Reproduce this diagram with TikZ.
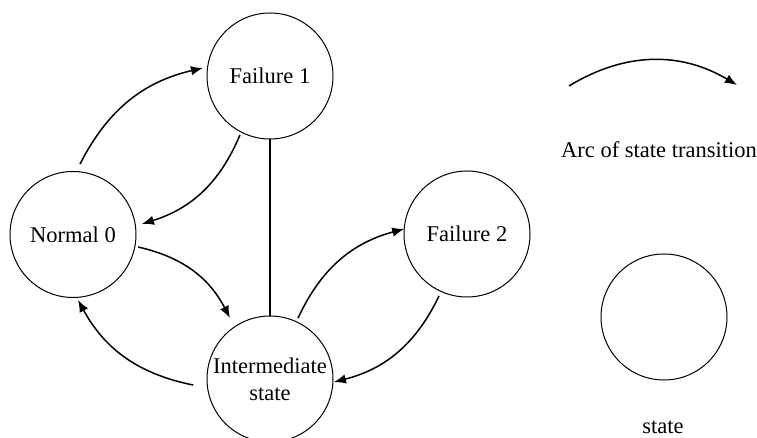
\documentclass[tikz,border=0pt]{standalone}
\usepackage{fontspec}
\setmainfont{Liberation Serif}
\usetikzlibrary{arrows.meta}
\begin{document}
\begin{tikzpicture}[x=1pt,y=1pt,
  state/.style={circle,draw,line width=1pt,minimum size=126pt,inner sep=0pt,outer sep=0pt,
    font=\fontsize{22.5}{27}\selectfont,align=center},
  trans/.style={line width=1.5pt,-{Latex[length=12pt,width=9.5pt]}},
  lbl/.style={font=\fontsize{22.5}{27}\selectfont,inner sep=0pt}]
\useasboundingbox (0,0) rectangle (757,438);
\node[state] (f1) at (270,362) {Failure 1};
\node[state] (n0) at (73,203.5) {Normal 0};
\node[state] (f2) at (467,204) {Failure 2};
\node[state] (is) at (270,59) {Intermediate\\state};
\node[state] (leg) at (664,121) {};
\node[lbl] (legtxt) at (663,11) {state};
\node[lbl] (arctxt) at (659,288) {Arc of state transition};
\coordinate (a1) at (569,352);
\coordinate (a2) at (737,353);
\draw[trans] (a1) to[bend left=31] (a2);
\draw[line width=1.2pt] (f1.south) -- (is.north);
\draw[trans] ([shift={(84.3:70.8)}]n0.center) to[bend left=25] ([shift={(173.2:67.5)}]f1.center);
\draw[trans] ([shift={(243:66.2)}]f1.center) to[bend left=25] ([shift={(8.7:69.8)}]n0.center);
\draw[trans] ([shift={(-10.9:66.2)}]n0.center) to[bend left=25] ([shift={(123.3:73)}]is.center);
\draw[trans] ([shift={(184.5:77)}]is.center) to[bend left=25] ([shift={(-85.6:65.7)}]n0.center);
\draw[trans] ([shift={(65.3:67)}]is.center) to[bend left=25] ([shift={(175.4:63)}]f2.center);
\draw[trans] ([shift={(245.7:68)}]f2.center) to[bend left=25] ([shift={(-2.7:64)}]is.center);
\end{tikzpicture}
\end{document}
